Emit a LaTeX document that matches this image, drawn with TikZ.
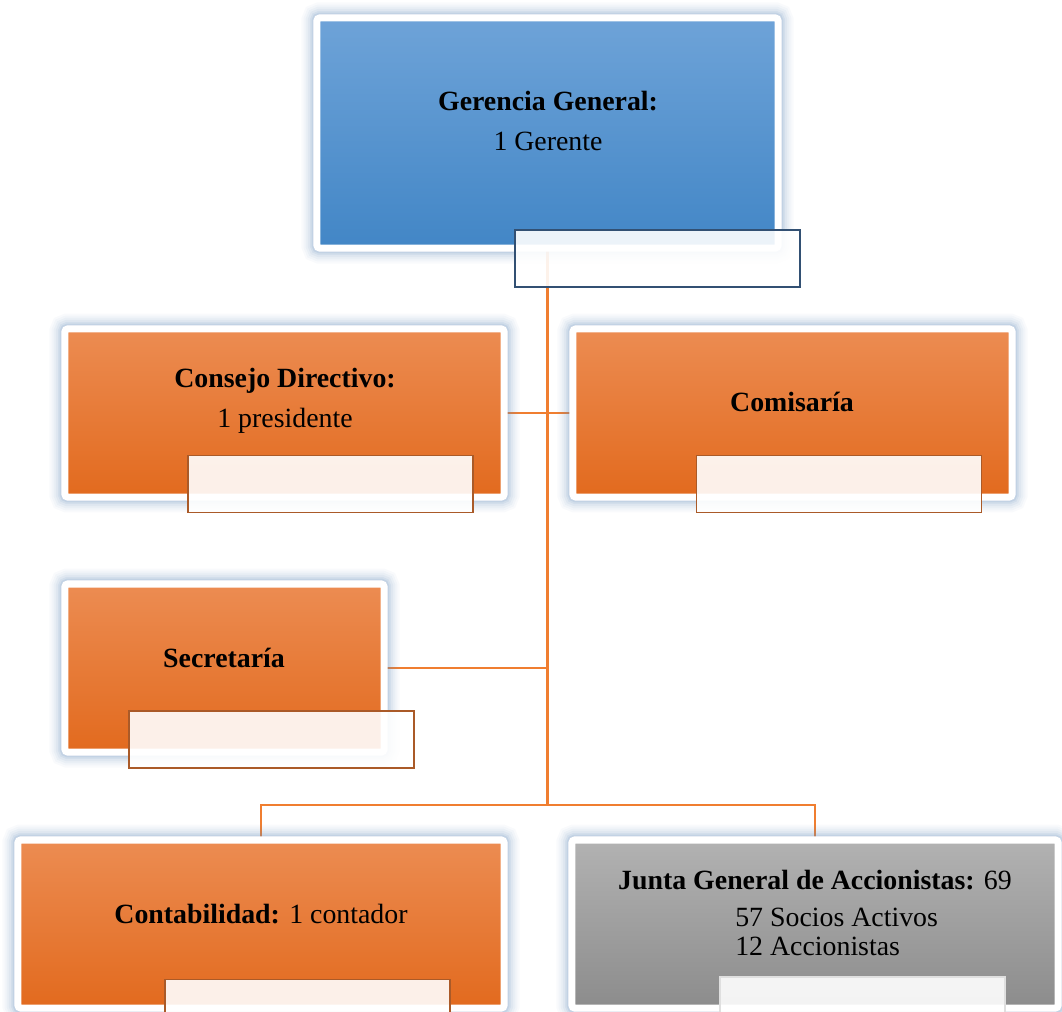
\documentclass[tikz,border=0pt]{standalone}
\usepackage{fontspec}
\setmainfont{Liberation Serif}
\usetikzlibrary{backgrounds}

\definecolor{glowblue}{RGB}{100,140,185}
\definecolor{linkorange}{RGB}{240,126,48}
\definecolor{blueTop}{RGB}{110,163,216}
\definecolor{blueBot}{RGB}{66,134,198}
\definecolor{orangeTop}{RGB}{236,140,82}
\definecolor{orangeBot}{RGB}{226,106,30}
\definecolor{grayTop}{RGB}{178,178,178}
\definecolor{grayBot}{RGB}{140,140,140}
\definecolor{tagblue}{RGB}{50,80,115}
\definecolor{tagorange}{RGB}{170,90,40}

\tikzset{
  unit/.style={draw=white, line width=5pt, rounded corners=2pt, inner sep=0pt, outer sep=0pt,
    preaction={draw=glowblue, line width=22pt, opacity=0.04},
    preaction={draw=glowblue, line width=19pt, opacity=0.05},
    preaction={draw=glowblue, line width=16pt, opacity=0.06},
    preaction={draw=glowblue, line width=13pt, opacity=0.08},
    preaction={draw=glowblue, line width=10pt, opacity=0.10},
    preaction={draw=glowblue, line width=7.5pt, opacity=0.14}},
  blueunit/.style={unit, top color=blueTop, bottom color=blueBot},
  orangeunit/.style={unit, top color=orangeTop, bottom color=orangeBot},
  grayunit/.style={unit, top color=grayTop, bottom color=grayBot},
  tag/.style={minimum width=7.125cm, minimum height=1.425cm, fill=white, fill opacity=0.9,
    line width=1pt, inner sep=0pt, outer sep=0pt},
  unittext/.style={align=center, inner sep=0pt, font=\fontsize{19.8}{28.5}\selectfont},
  link/.style={draw=linkorange, line width=1.5pt}
}

\begin{document}
\begin{tikzpicture}[x=0.025cm, y=-0.025cm]
\useasboundingbox (0,0) rectangle (1062,1011);

% boxes
\node[blueunit, minimum width=11.525cm, minimum height=5.75cm] (gerencia) at (547.5,133) {};
\node[tag, draw=tagblue] (gerenciaTag) at (657.5,258.5) {};
\node[unittext] (gerenciaTxt) at (548,121) {\textbf{Gerencia General:}\\1 Gerente};

\node[orangeunit, minimum width=10.975cm, minimum height=4.2cm] (consejo) at (284.5,413) {};
\node[tag, draw=tagorange] (consejoTag) at (330.5,484) {};
\node[unittext] (consejoTxt) at (285,401) {\textbf{Consejo Directivo:}\\1 presidente};

\node[orangeunit, minimum width=10.975cm, minimum height=4.2cm] (comisaria) at (792.5,413) {};
\node[tag, draw=tagorange] (comisariaTag) at (839,484) {};
\node[unittext] (comisariaTxt) at (792,402) {\textbf{Comisaría}};

\node[orangeunit, minimum width=7.975cm, minimum height=4.2cm] (secretaria) at (224.5,668) {};
\node[tag, draw=tagorange] (secretariaTag) at (271.5,739.5) {};
\node[unittext] (secretariaTxt) at (224,658) {\textbf{Secretaría}};

\node[orangeunit, minimum width=12.15cm, minimum height=4.2cm] (contab) at (261,924) {};
\node[tag, draw=tagorange] (contabTag) at (307.5,1008) {};
\node[unittext] (contabTxt) at (261,914) {\textbf{Contabilidad:} 1 contador};

\node[grayunit, minimum width=12.15cm, minimum height=4.2cm] (junta) at (815,924) {};
\node[tag, draw=gray!25] (juntaTag) at (862.5,1005.5) {};
\node[unittext] (juntaTxt) at (815,880) {\textbf{Junta General de Accionistas:} 69};
\node[unittext, align=left, anchor=west, font=\fontsize{19.8}{20.6}\selectfont] (juntaSub) at (735,932)
  {57 Socios Activos\\12 Accionistas};

% lines
\coordinate (fork) at (547.5,805);
\begin{scope}[on background layer]
\draw[link] (gerencia.south) -- (fork);
\draw[link] (consejo.east) -- (comisaria.west);
\draw[link] (secretaria.east) -- (secretaria.east -| fork);
\draw[link] (contab.north) |- (fork) -| (junta.north);
\end{scope}
\end{tikzpicture}
\end{document}
